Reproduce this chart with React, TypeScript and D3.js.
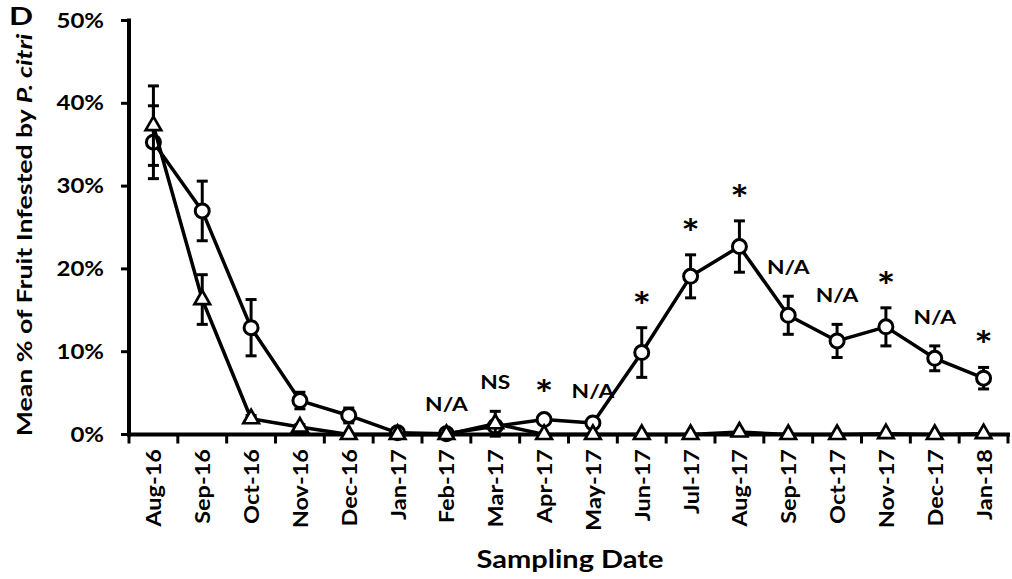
import React from "react";
import * as d3 from "d3";

// Monthly sampling dates
const months = [
  "Aug-16", "Sep-16", "Oct-16", "Nov-16", "Dec-16", "Jan-17", "Feb-17", "Mar-17", "Apr-17",
  "May-17", "Jun-17", "Jul-17", "Aug-17", "Sep-17", "Oct-17", "Nov-17", "Dec-17", "Jan-18",
];

// Mean proportion of fruit infested (circle series) and its standard error
const circleMean = [0.353, 0.27, 0.129, 0.041, 0.023, 0.002, 0.001, 0.01, 0.018, 0.014, 0.099, 0.191, 0.227, 0.144, 0.113, 0.13, 0.092, 0.068];
const circleErr = [0.044, 0.036, 0.034, 0.01, 0.009, 0.002, 0.001, 0.005, 0.004, 0.003, 0.03, 0.026, 0.031, 0.023, 0.02, 0.023, 0.015, 0.013];

// Mean proportion of fruit infested (triangle series) and its standard error
const triangleMean = [0.373, 0.163, 0.019, 0.009, 0, 0, 0, 0.013, 0, 0, 0, 0, 0.003, 0, 0, 0.001, 0, 0.001];
const triangleErr = [0.048, 0.03, 0.004, 0.003, 0, 0, 0, 0.015, 0, 0, 0, 0, 0.002, 0, 0, 0.001, 0, 0.001];

// Significance annotation per sampling date
const significance = ["", "", "", "", "", "", "N/A", "NS", "*", "N/A", "*", "*", "*", "N/A", "N/A", "*", "N/A", "*"];

const yTicks = [0, 0.1, 0.2, 0.3, 0.4, 0.5];

const W = 1012;
const H = 579;
const FONT = "Lato, 'Open Sans', sans-serif";

// Text drawn at (x, y), optionally rotated, widened along its reading direction
function WideText({
  x, y, sx = 1.18, rotate = 0, anchor = "start", size, weight = 700, children,
}: {
  x: number; y: number; sx?: number; rotate?: number; anchor?: string; size: number; weight?: number; children: React.ReactNode;
}) {
  return (
    <g transform={`translate(${x},${y}) rotate(${rotate}) scale(${sx},1)`}>
      <text x={0} y={0} textAnchor={anchor as any} fontSize={size} fontWeight={weight}>
        {children}
      </text>
    </g>
  );
}

export default function App() {
  const x = d3.scaleBand<string>().domain(months).range([129, 1008]).padding(0);
  const cx = (m: string) => (x(m) as number) + x.bandwidth() / 2;
  const y = d3.scaleLinear().domain([0, 0.5]).range([434.5, 20.5]);

  const line = d3
    .line<number>()
    .x((_, i) => cx(months[i]))
    .y((v) => y(v));

  const tri = d3.symbol(d3.symbolTriangle, 105)() as string;
  const bounds = months.map((m) => x(m) as number).concat([x.range()[1]]);

  const errBars = (mean: number[], err: number[], key: string) =>
    mean.map((v, i) =>
      err[i] > 0.002 ? (
        <g key={key + i} stroke="#000" strokeWidth={3}>
          <line x1={cx(months[i])} x2={cx(months[i])} y1={y(v - err[i])} y2={y(v + err[i])} />
          <line x1={cx(months[i]) - 5.5} x2={cx(months[i]) + 5.5} y1={y(v - err[i])} y2={y(v - err[i])} />
          <line x1={cx(months[i]) - 5.5} x2={cx(months[i]) + 5.5} y1={y(v + err[i])} y2={y(v + err[i])} />
        </g>
      ) : null
    );

  return (
    <svg width={W} height={H} style={{ position: "absolute", left: 0, top: 0, background: "#fff" }} fontFamily={FONT}>
      {/* panel letter */}
      <WideText x={9} y={25} size={24} sx={1.32}>D</WideText>

      {/* y axis */}
      <line x1={129} x2={129} y1={y(0.5) - 2} y2={y(0) + 2} stroke="#000" strokeWidth={4} />
      {yTicks.map((t) => (
        <g key={"yt" + t}>
          <line x1={121} x2={129} y1={y(t)} y2={y(t)} stroke="#000" strokeWidth={3} />
          <WideText x={104} y={y(t) + 7} anchor="end" size={20} sx={1.2}>
            {d3.format(".0%")(t)}
          </WideText>
        </g>
      ))}
      <WideText x={32} y={235} rotate={-90} anchor="middle" size={21} sx={1.27}>
        Mean % of Fruit Infested by <tspan fontStyle="italic">P. citri</tspan>
      </WideText>

      {/* x axis */}
      <line x1={127} x2={1010} y1={y(0)} y2={y(0)} stroke="#000" strokeWidth={4} />
      {bounds.map((b, i) => (
        <line key={"xt" + i} x1={b} x2={b} y1={y(0)} y2={y(0) + 9} stroke="#000" strokeWidth={3} />
      ))}
      {months.map((m) => (
        <WideText key={"xl" + m} x={cx(m) + 8} y={449} rotate={-90} anchor="end" size={21} sx={1.12}>
          {m}
        </WideText>
      ))}
      <WideText x={570} y={568} anchor="middle" size={25} sx={1.16}>Sampling Date</WideText>

      {/* circle series */}
      <path d={line(circleMean) as string} fill="none" stroke="#000" strokeWidth={3.5} strokeLinejoin="round" />
      {errBars(circleMean, circleErr, "ce")}
      {circleMean.map((v, i) => (
        <circle key={"c" + i} cx={cx(months[i])} cy={y(v)} r={7} fill="#fff" stroke="#000" strokeWidth={3} />
      ))}

      {/* triangle series */}
      <path d={line(triangleMean) as string} fill="none" stroke="#000" strokeWidth={3.5} strokeLinejoin="round" />
      {errBars(triangleMean, triangleErr, "te")}
      {triangleMean.map((v, i) => (
        <path key={"t" + i} d={tri} transform={`translate(${cx(months[i])},${y(v)})`} fill="#fff" stroke="#000" strokeWidth={2.7} />
      ))}

      {/* significance labels above the highest error bar */}
      {significance.map((s, i) => {
        if (!s) return null;
        const top = Math.min(y(circleMean[i] + circleErr[i]), y(triangleMean[i] + triangleErr[i]));
        const star = s === "*";
        return (
          <WideText
            key={"s" + i}
            x={cx(months[i])}
            y={star ? top - 8 : top - 22}
            anchor="middle"
            size={star ? 38 : 19}
            sx={star ? 1.15 : 1.2}
          >
            {s}
          </WideText>
        );
      })}
    </svg>
  );
}
